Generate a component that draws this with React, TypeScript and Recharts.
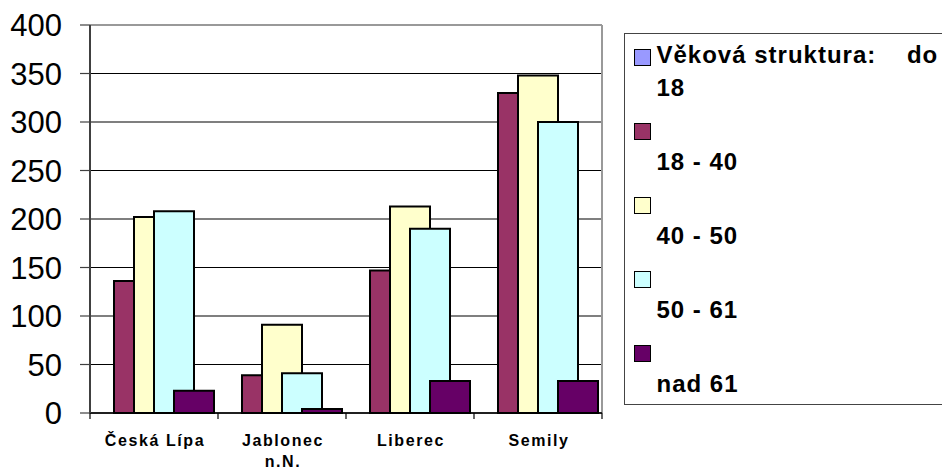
import React from 'react';
import { BarChart, Bar, XAxis, YAxis, CartesianGrid, Legend } from 'recharts';

const CATEGORIES = ['Česká Lípa', 'Jablonec\nn.N.', 'Liberec', 'Semily'];
const SERIES_NAMES = ['Věková struktura:    do 18', '18 - 40', '40 - 50', '50 - 61', 'nad 61'];
const DO_18 = [0, 0, 0, 0];
const AGE_18_40 = [136, 39, 147, 330];
const AGE_40_50 = [202, 91, 213, 348];
const AGE_50_61 = [208, 41, 190, 300];
const NAD_61 = [23, 4, 33, 33];
const Y_TICKS = [0, 50, 100, 150, 200, 250, 300, 350, 400];
const COLORS = ['#9999FF', '#993366', '#FFFFCC', '#CCFFFF', '#660066'];

const SERIES_VALUES = [DO_18, AGE_18_40, AGE_40_50, AGE_50_61, NAD_61];
const KEYS = ['s0', 's1', 's2', 's3', 's4'];

const data = CATEGORIES.map((c, i) => {
  const row: any = { name: c };
  SERIES_VALUES.forEach((vals, k) => {
    row[KEYS[k]] = vals[i];
  });
  return row;
});

const FONT = '"Liberation Sans", Arial, sans-serif';

const XTick = (props: any) => {
  const { x, y, payload, index } = props;
  const half = payload && payload.offset ? payload.offset : 0;
  const lines = String(payload.value).split('\n');
  return (
    <g>
      <line x1={x - half} x2={x - half} y1={y} y2={y + 6} stroke="#000" strokeWidth={1.2} />
      {index === CATEGORIES.length - 1 && (
        <line x1={x + half} x2={x + half} y1={y} y2={y + 6} stroke="#000" strokeWidth={1.2} />
      )}
      <text
        x={x}
        y={y}
        textAnchor="middle"
        fontSize={16}
        fontWeight="bold"
        letterSpacing={1.6}
        fill="#000"
        fontFamily={FONT}
      >
        {lines.map((l, i) => (
          <tspan key={i} x={x + 1} dy={i === 0 ? 33 : 21}>
            {l}
          </tspan>
        ))}
      </text>
    </g>
  );
};

const LegendBox = () => (
  <div
    style={{
      boxSizing: 'border-box',
      width: 330,
      height: 372,
      border: '1.5px solid #444',
      paddingTop: 3.5,
      paddingLeft: 31.5,
      fontFamily: FONT,
      fontWeight: 'bold',
      fontSize: 24,
      letterSpacing: 1,
      color: '#000',
      background: '#fff',
      textAlign: 'left',
    }}
  >
    {SERIES_NAMES.map((name, i) => {
      let l1 = '';
      let l2 = name;
      if (i === 0) {
        const p = name.lastIndexOf(' ');
        l1 = name.slice(0, p);
        l2 = name.slice(p + 1);
      }
      return (
        <div key={i} style={{ position: 'relative', height: 66, marginBottom: 8 }}>
          <div
            style={{
              position: 'absolute',
              left: -23,
              top: 11,
              width: 17,
              height: 17,
              boxSizing: 'border-box',
              border: '1.5px solid #000',
              background: COLORS[i],
            }}
          />
          <div style={{ height: 33, lineHeight: '33px', whiteSpace: 'pre' }}>{l1}</div>
          <div style={{ height: 33, lineHeight: '33px', whiteSpace: 'pre' }}>{l2}</div>
        </div>
      );
    })}
  </div>
);

export default function App() {
  return (
    <div style={{ width: 942, height: 469, overflow: 'hidden', position: 'relative', background: '#fff' }}>
      <style>{'body{margin:0;overflow:hidden;background:#fff}'}</style>
      <BarChart
        width={942}
        height={469}
        data={data}
        margin={{ top: 25, right: 340, bottom: 0, left: 0 }}
        barSize={40}
        barGap={-20}
      >
        <CartesianGrid horizontal vertical={false} stroke="#000" strokeWidth={1.2} />
        <CartesianGrid
          horizontal
          vertical
          stroke="#999"
          strokeWidth={2}
          horizontalCoordinatesGenerator={({ offset }: any) => [offset.top]}
          verticalCoordinatesGenerator={({ offset }: any) => [offset.left + offset.width]}
        />
        <XAxis
          dataKey="name"
          height={56}
          interval={0}
          tickLine={false}
          tickSize={0}
          tickMargin={0}
          axisLine={{ stroke: '#000', strokeWidth: 1.5 }}
          tick={<XTick />}
        />
        <YAxis
          width={90}
          domain={[0, 400]}
          ticks={Y_TICKS}
          interval={0}
          tickSize={10}
          tickMargin={18}
          axisLine={{ stroke: '#404040', strokeWidth: 2 }}
          tickLine={{ stroke: '#404040', strokeWidth: 1.2 }}
          tick={{ fontSize: 31, fill: '#000', fontFamily: FONT }}
        />
        <Legend
          layout="vertical"
          align="center"
          verticalAlign="middle"
          content={<LegendBox />}
          wrapperStyle={{ position: 'absolute', left: 624, top: 33, width: 330, height: 372, margin: 0 }}
        />
        {KEYS.map((k, i) => (
          <Bar
            key={k}
            dataKey={k}
            name={SERIES_NAMES[i]}
            fill={COLORS[i]}
            stroke="#000"
            strokeWidth={2}
            isAnimationActive={false}
          />
        ))}
      </BarChart>
    </div>
  );
}
